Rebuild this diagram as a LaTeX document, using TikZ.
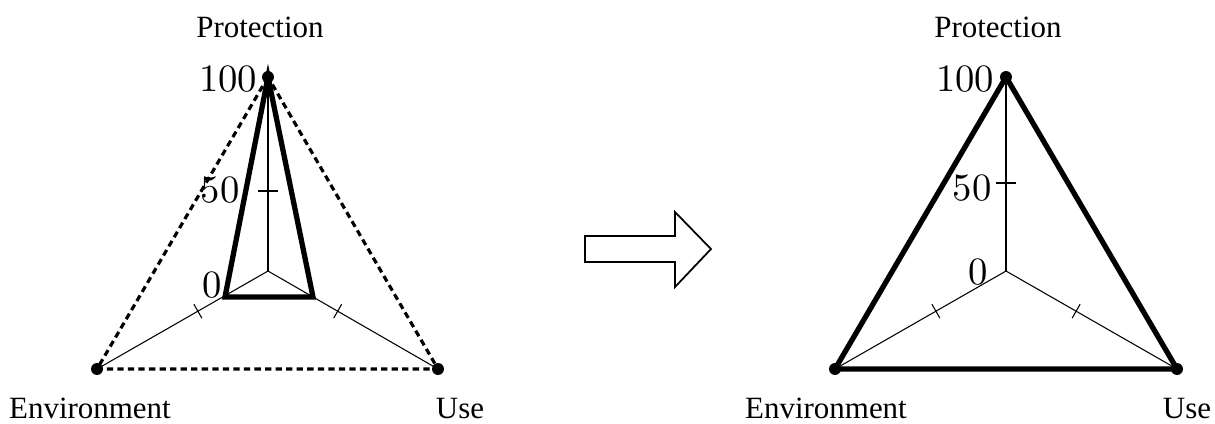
\documentclass[tikz,border=0pt]{standalone}
\usepackage{fontspec}
\setmainfont{Liberation Serif}
\newfontfamily\numfont{Latin Modern Roman}
\usetikzlibrary{calc}
\begin{document}
\begin{tikzpicture}[x=0.01cm,y=-0.01cm,
  axis/.style={line width=0.3pt},
  thickline/.style={line width=1.5pt,line join=miter},
  dashline/.style={line width=0.9pt,dash pattern=on 1.8pt off 1.2pt},
  dot/.style={circle,fill=black,inner sep=0pt,minimum size=3.4pt},
  lab/.style={font=\fontsize{8.8}{10}\selectfont,inner sep=0pt},
  num/.style={font=\numfont\fontsize{11}{13}\selectfont,inner sep=0pt}]
\useasboundingbox (0,0) rectangle (1215,423);
% ---------- left chart ----------
\coordinate (LC) at (268,271);
\coordinate (LT) at (268,77);
\coordinate (LL) at (97,369);
\coordinate (LR) at (438,369);
\coordinate (LiL) at (225,297);
\coordinate (LiR) at (313,297);
\draw[axis] (LC) -- (LT);
\draw[axis] (LC) -- (LL);
\draw[axis] (LC) -- (LR);
% ticks
\draw[axis] (258,191) -- (278,191);
\draw[axis] ($(LC)!0.41!(LL)+(-4,-7)$) -- ++(8,14);
\draw[axis] ($(LC)!0.41!(LR)+(4,-7)$) -- ++(-8,14);
\draw[dashline] (LT) -- (LL) -- (LR) -- cycle;
\draw[thickline] (LT) -- (LiL) -- (LiR) -- cycle;
\node[dot] (lt) at (LT) {};
\node[dot] (ll) at (LL) {};
\node[dot] (lr) at (LR) {};
\node[lab] (lprot) at (260,27) {Protection};
\node[lab] (lenv) at (90,408) {Environment};
\node[lab] (luse) at (460,408) {Use};
\node[num,anchor=east] (l100) at (258,79) {100};
\node[num] (l50) at (220,190) {50};
\node[num] (l0) at (212,285) {0};
% ---------- arrow ----------
\draw[line width=0.5pt,line join=miter] (585,236) -- (675,236) -- (675,212) -- (711,249) -- (675,287) -- (675,262) -- (585,262) -- cycle;
% ---------- right chart ----------
\coordinate (RC) at (1006,271);
\coordinate (RT) at (1006,77);
\coordinate (RL) at (835,369);
\coordinate (RR) at (1177,369);
\draw[axis] (RC) -- (RT);
\draw[axis] (RC) -- (RL);
\draw[axis] (RC) -- (RR);
\draw[axis] (996,183) -- (1016,183);
\draw[axis] ($(RC)!0.41!(RL)+(-4,-7)$) -- ++(8,14);
\draw[axis] ($(RC)!0.41!(RR)+(4,-7)$) -- ++(-8,14);
\draw[thickline] (RT) -- (RL) -- (RR) -- cycle;
\node[dot] (rt) at (RT) {};
\node[dot] (rl) at (RL) {};
\node[dot] (rr) at (RR) {};
\node[lab] (rprot) at (998,27) {Protection};
\node[lab] (renv) at (826,408) {Environment};
\node[lab] (ruse) at (1187,408) {Use};
\node[num,anchor=east] (r100) at (995,79) {100};
\node[num] (r50) at (972,188) {50};
\node[num] (r0) at (978,272) {0};
\end{tikzpicture}
\end{document}
